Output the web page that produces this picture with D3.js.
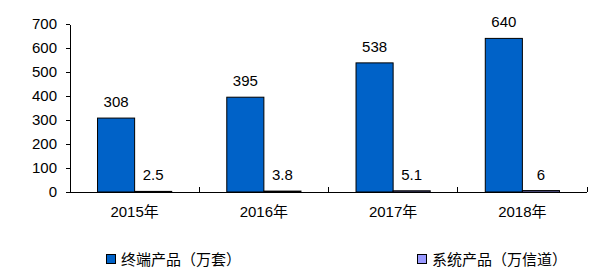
<!DOCTYPE html>
<html>
<head>
<meta charset="utf-8">
<script src="https://cdn.jsdelivr.net/npm/d3@7"></script>
<style>
  body { margin: 0; background: #fff; }
  text { font-family: "Liberation Sans", Arial, "Noto Sans CJK SC", sans-serif; fill: #000; }
  .axis path, .axis line { stroke: #000; }
</style>
</head>
<body>
<svg class="chart" width="606" height="270"></svg>
<script>
const years = ['2015年', '2016年', '2017年', '2018年'];
const terminal = [308, 395, 538, 640];
const system = [2.5, 3.8, 5.1, 6];
const yTicks = [0, 100, 200, 300, 400, 500, 600, 700];
const seriesNames = ['终端产品（万套）', '系统产品（万信道）'];
const colors = ['#0062C8', '#9999FF'];

var svg = d3.select('.chart');
var margin = { top: 24, left: 70 };
var width = 517, height = 168;

var g = svg.append('g')
    .attr('transform', 'translate(' + margin.left + ',' + margin.top + ')');

var x = d3.scaleBand().domain(years).range([0, width]);
var x1 = d3.scaleBand().domain([0, 1])
    .range([x.bandwidth() * 0.213, x.bandwidth() * 0.787]);
var y = d3.scaleLinear().domain([0, 700]).range([height, 0]);

// y axis
var ya = g.append('g').attr('class', 'axis')
    .call(d3.axisLeft(y).tickValues(yTicks).tickSize(4).tickSizeOuter(0).tickPadding(9));
ya.selectAll('text').style('font-size', '15px');
ya.select('.domain').attr('shape-rendering', 'crispEdges');
ya.selectAll('line').attr('shape-rendering', 'crispEdges');

// x axis line and separators
var xa = g.append('g').attr('transform', 'translate(0,' + height + ')');
xa.append('line').attr('x1', 0).attr('x2', width)
    .attr('stroke', '#000').attr('shape-rendering', 'crispEdges');
xa.selectAll('.sep')
    .data(years.slice(1).concat(['end']))
    .enter().append('line')
    .attr('x1', (d, i) => x(years[0]) + x.step() * (i + 1))
    .attr('x2', (d, i) => x(years[0]) + x.step() * (i + 1))
    .attr('y1', 0).attr('y2', -5)
    .attr('stroke', '#000').attr('shape-rendering', 'crispEdges');
xa.selectAll('.xl')
    .data(years)
    .enter().append('text')
    .attr('x', d => x(d) + x.bandwidth() / 2)
    .attr('y', 25)
    .attr('text-anchor', 'middle')
    .style('font-size', '15px')
    .text(d => d);

// bars
[terminal, system].forEach(function (vals, s) {
    g.selectAll('.bar' + s)
        .data(vals)
        .enter().append('rect')
        .attr('x', (d, i) => x(years[i]) + x1(s))
        .attr('y', d => y(d))
        .attr('width', x1.bandwidth())
        .attr('height', d => height - y(d))
        .attr('fill', colors[s])
        .attr('stroke', '#000')
        .attr('stroke-width', 1);

    g.selectAll('.lab' + s)
        .data(vals)
        .enter().append('text')
        .attr('x', (d, i) => x(years[i]) + x1(s) + x1.bandwidth() / 2)
        .attr('y', d => y(d) - 11)
        .attr('text-anchor', 'middle')
        .style('font-size', '15px')
        .text(d => d);
});

// legend
var legendX = [106, 417];
seriesNames.forEach(function (name, s) {
    var lg = svg.append('g').attr('transform', 'translate(' + legendX[s] + ',254)');
    lg.append('rect').attr('x', 0.5).attr('y', 0.5)
        .attr('width', 9).attr('height', 9)
        .attr('fill', colors[s]).attr('stroke', '#000');
    lg.append('text').attr('x', 15).attr('y', 10.5)
        .style('font-size', '15px')
        .text(name);
});
</script>
</body>
</html>
